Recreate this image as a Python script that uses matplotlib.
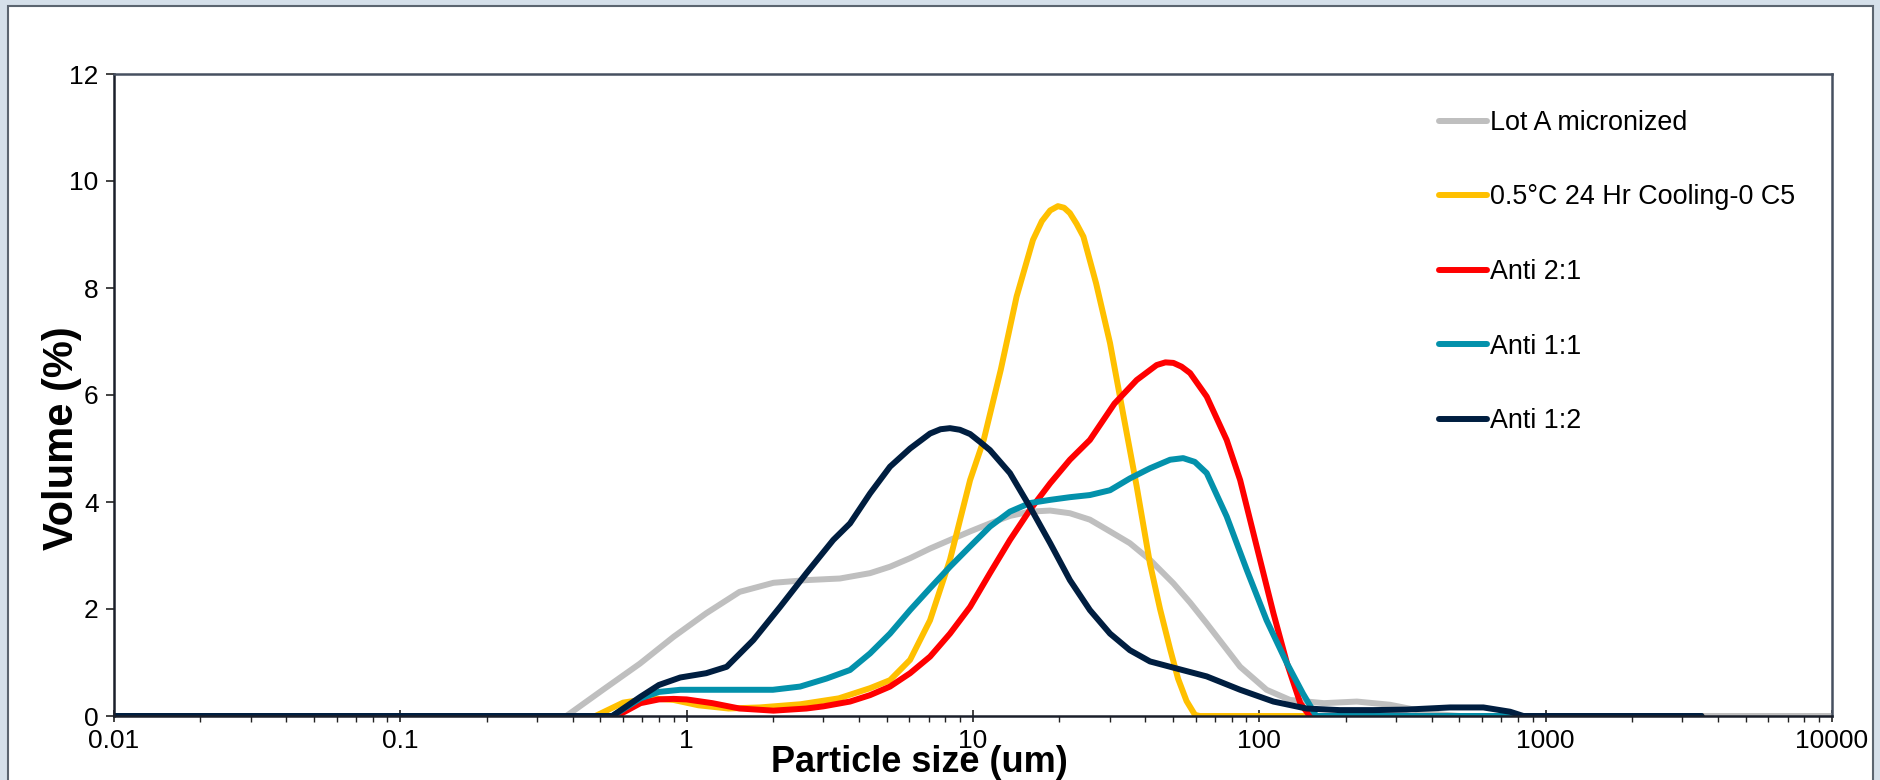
import matplotlib
matplotlib.use("Agg")
import matplotlib.pyplot as plt
from matplotlib.patches import Rectangle
from matplotlib.ticker import FixedLocator, LogLocator, NullFormatter

# particle size distributions (size in um, volume in %)
lot_a_size = [0.01, 0.38, 0.51, 0.687, 0.90, 1.17, 1.53, 2.01, 2.62, 3.43, 4.37, 5.13,
              6.03, 7.08, 8.31, 9.77, 11.46, 13.46, 15.8, 18.6, 21.8, 25.6, 30.1, 35.3,
              41.5, 50.1, 57.3, 65.5, 85.7, 106, 128, 168, 219, 286, 355, 428, 500, 10000]
lot_a_vol = [0, 0, 0.49, 0.98, 1.48, 1.92, 2.32, 2.49, 2.54, 2.57, 2.67, 2.79,
             2.95, 3.13, 3.29, 3.45, 3.60, 3.74, 3.82, 3.84, 3.79, 3.67, 3.45, 3.23,
             2.92, 2.48, 2.12, 1.73, 0.92, 0.49, 0.30, 0.24, 0.27, 0.21, 0.11, 0.03, 0, 0]

cool_size = [0.01, 0.48, 0.60, 0.75, 0.90, 1.1, 1.4, 1.8, 2.5, 3.4, 4.37, 5.13, 6.03,
             7.08, 8.31, 9.77, 10.9, 12.5, 14.2, 16.2, 17.4, 18.6, 19.8, 20.8, 21.8,
             23.0, 24.3, 26.9, 30.1, 33.6, 37.3, 41.5, 45, 48.8, 52, 55.7, 59.6, 62, 3500]
cool_vol = [0, 0, 0.25, 0.33, 0.30, 0.20, 0.14, 0.16, 0.22, 0.33, 0.52, 0.67, 1.05,
            1.79, 2.92, 4.41, 5.16, 6.47, 7.84, 8.90, 9.25, 9.45, 9.53, 9.50, 9.40,
            9.20, 8.96, 8.09, 6.97, 5.59, 4.29, 2.85, 2.00, 1.25, 0.70, 0.28, 0.02, 0, 0]

a21_size = [0.01, 0.57, 0.69, 0.80, 0.90, 1.0, 1.23, 1.53, 2.01, 2.62, 3.0, 3.72, 4.37,
            5.13, 6.03, 7.08, 8.31, 9.77, 11.46, 13.46, 15.8, 18.6, 21.8, 25.6, 31.2,
            37.3, 43.8, 47.0, 50.1, 53.5, 57.3, 65.5, 76.9, 85.7, 98, 112, 125, 139,
            150, 3500]
a21_vol = [0, 0, 0.24, 0.31, 0.32, 0.31, 0.24, 0.14, 0.10, 0.14, 0.18, 0.27, 0.39,
           0.55, 0.80, 1.11, 1.54, 2.04, 2.67, 3.29, 3.85, 4.35, 4.79, 5.16, 5.84,
           6.28, 6.56, 6.61, 6.60, 6.53, 6.41, 5.97, 5.16, 4.41, 3.16, 1.92, 0.98, 0.24,
           0, 0]

a11_size = [0.01, 0.55, 0.69, 0.80, 0.95, 1.5, 2.0, 2.49, 3.08, 3.72, 4.37, 5.13, 6.03,
            7.08, 8.31, 9.77, 11.46, 13.46, 15.8, 18.6, 21.8, 25.6, 30.1, 35.3, 41.5,
            48.8, 54.2, 59.5, 65.5, 76.9, 90.4, 106, 125, 142, 158, 3500]
a11_vol = [0, 0, 0.33, 0.45, 0.49, 0.49, 0.49, 0.55, 0.70, 0.86, 1.17, 1.54, 1.98,
           2.39, 2.79, 3.17, 3.54, 3.82, 3.98, 4.04, 4.09, 4.13, 4.22, 4.44, 4.63,
           4.79, 4.82, 4.75, 4.54, 3.73, 2.73, 1.79, 0.98, 0.42, 0, 0]

a12_size = [0.01, 0.55, 0.69, 0.80, 0.95, 1.17, 1.38, 1.71, 2.12, 2.62, 3.25, 3.72,
            4.37, 5.13, 6.03, 7.08, 7.7, 8.31, 9.0, 9.77, 10.6, 11.46, 13.46, 15.8,
            18.6, 21.8, 25.6, 30.1, 35.3, 41.5, 48.8, 65.5, 85.7, 112, 146, 191, 250,
            327, 464, 606, 751, 836, 3500]
a12_vol = [0, 0, 0.36, 0.58, 0.72, 0.80, 0.92, 1.42, 2.04, 2.67, 3.29, 3.60,
           4.16, 4.66, 5.00, 5.28, 5.36, 5.38, 5.35, 5.27, 5.12, 4.97, 4.54, 3.91,
           3.23, 2.54, 1.98, 1.54, 1.23, 1.02, 0.92, 0.74, 0.49, 0.27, 0.14, 0.11, 0.11,
           0.12, 0.16, 0.16, 0.08, 0, 0]

series = [
    ("Lot A micronized", lot_a_size, lot_a_vol, "#BFBFBF"),
    ("0.5°C 24 Hr Cooling-0 C5", cool_size, cool_vol, "#FFC000"),
    ("Anti 2:1", a21_size, a21_vol, "#FF0000"),
    ("Anti 1:1", a11_size, a11_vol, "#0391AB"),
    ("Anti 1:2", a12_size, a12_vol, "#001E40"),
]

x_ticks = [0.01, 0.1, 1, 10, 100, 1000, 10000]
x_tick_labels = ["0.01", "0.1", "1", "10", "100", "1000", "10000"]
y_ticks = [0, 2, 4, 6, 8, 10, 12]

plt.rcParams["font.family"] = ["Liberation Sans", "DejaVu Sans"]

fig = plt.figure(figsize=(18.81, 7.80), dpi=100, facecolor="#D5E0EA")
# white chart panel with its border, kept behind the axes
panel = Rectangle((8 / 1881, -0.05), 1865 / 1881, 1.05 - 6 / 780,
                  transform=fig.transFigure, facecolor="white",
                  edgecolor="#5B6570", linewidth=1.5, zorder=-10)
fig.patches.append(panel)

ax = fig.add_axes([114 / 1881, 64 / 780, 1718 / 1881, 642 / 780])
ax.set_facecolor("white")

for name, xs, ys, col in series:
    ax.plot(xs, ys, color=col, lw=4.3, label=name,
            solid_capstyle="round", solid_joinstyle="round")

ax.set_xscale("log")
ax.set_xlim(0.01, 10000)
ax.set_ylim(0, 12)
ax.xaxis.set_major_locator(FixedLocator(x_ticks))
ax.set_xticklabels(x_tick_labels, fontsize=19)
ax.xaxis.set_minor_locator(LogLocator(base=10, subs=range(2, 10), numticks=20))
ax.xaxis.set_minor_formatter(NullFormatter())
ax.set_yticks(y_ticks)
ax.set_yticklabels([str(v) for v in y_ticks], fontsize=19)

ax.tick_params(axis="x", which="major", direction="inout", length=8, width=1.2,
               pad=5, color="#222222")
ax.tick_params(axis="x", which="minor", direction="out", length=4, width=1,
               color="#222222")
ax.tick_params(axis="y", direction="out", length=6, width=1.2, pad=5,
               color="#222222")

for side in ["top", "right"]:
    ax.spines[side].set_color("#475060")
    ax.spines[side].set_linewidth(1.8)
for side in ["left", "bottom"]:
    ax.spines[side].set_color("#1A1F2A")
    ax.spines[side].set_linewidth(1.8)

fig.text(919 / 1881, 1 - 762 / 780, "Particle size (um)", ha="center", va="center",
         fontsize=26, fontweight="bold")
fig.text(62 / 1881, 1 - 438 / 780, "Volume (%)", ha="center", va="center",
         rotation=90, fontsize=30, fontweight="bold")

ax.legend(loc="upper left", bbox_to_anchor=(1439 / 1881, 1 - 110 / 780),
          bbox_transform=fig.transFigure, frameon=False, fontsize=19.4,
          handlelength=1.8, handletextpad=0.08, labelspacing=1.80,
          borderpad=0, borderaxespad=0)

fig.savefig("out.png", dpi=100, facecolor=fig.get_facecolor())
